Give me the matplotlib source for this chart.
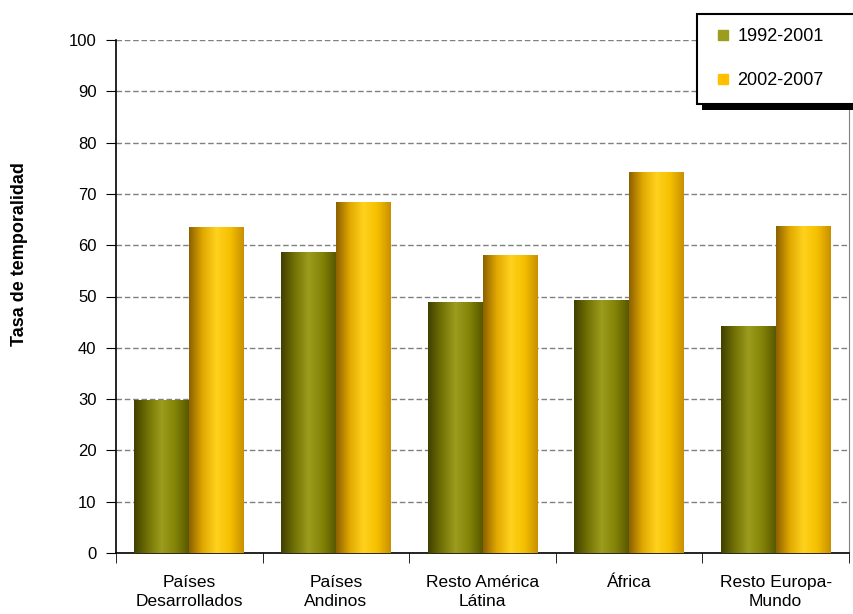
import numpy as np
import matplotlib
matplotlib.use("Agg")
import matplotlib.pyplot as plt
from matplotlib.colors import LinearSegmentedColormap
from matplotlib.lines import Line2D
from matplotlib.patches import Rectangle

categorias = ["Países\nDesarrollados", "Países\nAndinos", "Resto América\nLátina",
              "África", "Resto Europa-\nMundo"]
serie_1992 = [29.8, 58.5, 48.9, 49.3, 44.2]
serie_2002 = [63.4, 68.4, 57.9, 74.1, 63.7]
series = ["1992-2001", "2002-2007"]

plt.rcParams['font.family'] = ['Liberation Sans', 'DejaVu Sans']

# gradients like the excel bars (dark left, light middle, darker right)
cm_verde = LinearSegmentedColormap.from_list("verde", ["#404000", "#727206", "#9c9c1e", "#848408", "#585800"])
cm_oro = LinearSegmentedColormap.from_list("oro", ["#8c6000", "#e0a800", "#ffd21e", "#f5c000", "#c89000"])

W, H = 854, 614
fig = plt.figure(figsize=(W / 100, H / 100), dpi=100)
ax = fig.add_axes([116 / W, 1 - 553 / H, (849 - 116) / W, (553 - 40) / H])

x = np.arange(len(categorias))
w = 0.375
grad = np.linspace(0, 1, 256).reshape(1, -1)

def barras(pos, vals, cmap):
    for p, v in zip(pos, vals):
        ax.imshow(grad, cmap=cmap, aspect='auto', extent=(p - w / 2, p + w / 2, 0, v),
                  interpolation='bilinear', zorder=3)

barras(x - w / 2, serie_1992, cm_verde)
barras(x + w / 2, serie_2002, cm_oro)

ax.set_xlim(-0.5, len(categorias) - 0.5)
ax.set_ylim(0, 100)
ax.set_yticks(range(0, 101, 10))
ax.tick_params(axis='y', labelsize=12, length=7, direction='out', pad=7)
ax.set_xticks(x)
ax.set_xticklabels(categorias, fontsize=12.5, linespacing=1.3)
ax.tick_params(axis='x', which='major', length=0, pad=16)
ax.set_xticks(np.arange(-0.5, len(categorias), 1), minor=True)
ax.tick_params(axis='x', which='minor', length=7, direction='out')

ax.grid(axis='y', color='#808080', linestyle=(0, (4, 2)), linewidth=1, zorder=1)
ax.set_axisbelow(True)
ax.spines['top'].set_visible(False)
ax.spines['right'].set_color('#808080')
ax.spines['left'].set_linewidth(1.2)
ax.spines['bottom'].set_linewidth(1.2)

fig.text(20 / W, 1 - 254 / H, "Tasa de temporalidad", rotation=90, ha='center', va='center',
         fontsize=13, fontweight='bold')

# legend box with shadow, runs past the right edge like the original
fig.patches.append(Rectangle((702 / W, 1 - 110 / H), 200 / W, 92 / H, transform=fig.transFigure,
                             facecolor='black', edgecolor='none', zorder=5))
fig.patches.append(Rectangle((697 / W, 1 - 104 / H), 200 / W, 90 / H, transform=fig.transFigure,
                             facecolor='white', edgecolor='black', linewidth=1.5, zorder=6))

handles = [Line2D([], [], marker='s', linestyle='', markersize=7, color=cm_verde(0.5)),
           Line2D([], [], marker='s', linestyle='', markersize=7, color='#ffc000')]
leg = fig.legend(handles, series, loc='upper left', bbox_to_anchor=(714 / W, 1 - 28 / H),
                 borderaxespad=0, frameon=False, fontsize=13, labelspacing=1.5,
                 handletextpad=0.3, borderpad=0, handlelength=1.0)
leg.set_zorder(7)

fig.savefig("out.png", dpi=100)
